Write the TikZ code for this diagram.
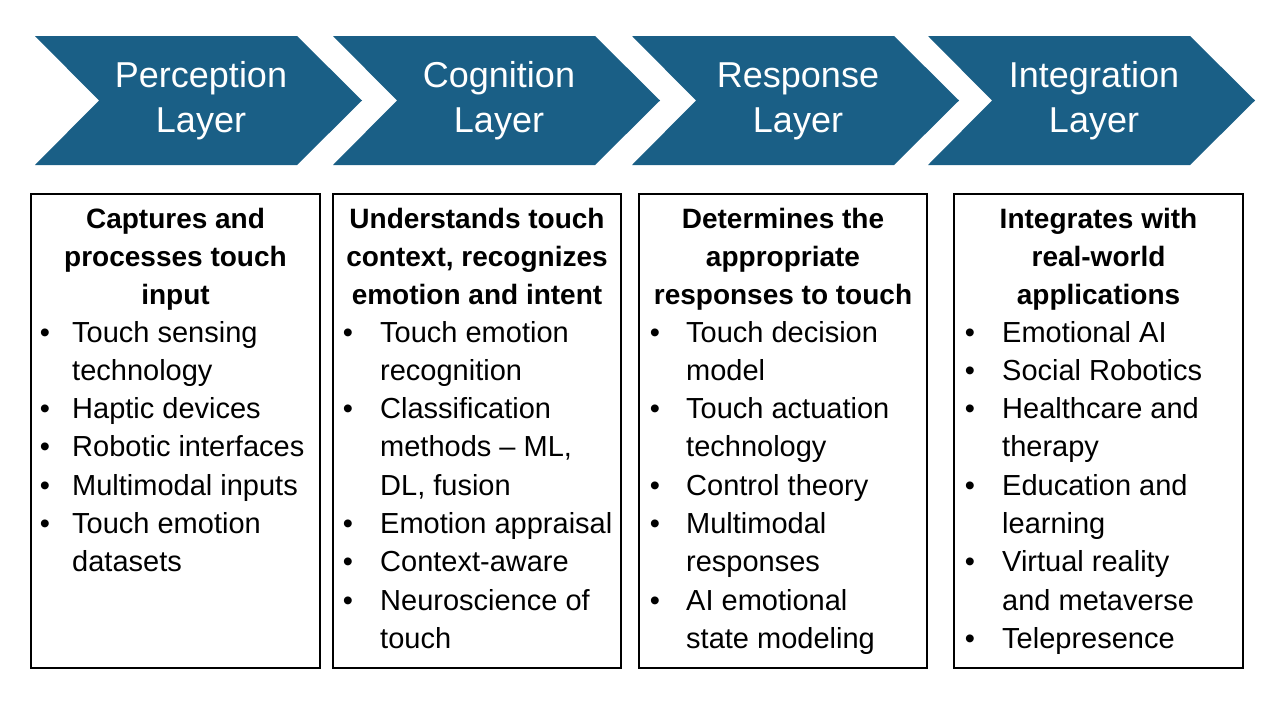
\documentclass[tikz,border=0pt]{standalone}
\usepackage{fontspec}
\setmainfont{Liberation Sans}
\definecolor{chevblue}{RGB}{26,95,134}
\newcommand\cm{,}
\tikzset{
  chevron/.style={fill=chevblue, draw=none},
  chevtext/.style={text=white, align=center, inner sep=0pt,
    font=\fontsize{36}{45}\selectfont},
  panel/.style={draw=black, line width=2pt, fill=white, inner sep=0pt,
    minimum height=474pt},
  headtext/.style={anchor=base, inner sep=0pt,
    font=\bfseries\fontsize{28}{34}\selectfont},
  bodytext/.style={anchor=base west, inner sep=0pt,
    font=\fontsize{29}{35}\selectfont},
  dot/.style={anchor=base, inner sep=0pt, font=\fontsize{29}{35}\selectfont},
}
\begin{document}
\begin{tikzpicture}[x=1pt,y=-1pt]
\useasboundingbox (0,0) rectangle (1280,720);

% chevron arrows with layer titles
\foreach \xo/\name/\lbl in {35/c1/Perception, 333/c2/Cognition, 632/c3/Response, 928/c4/Integration} {
  \fill[chevron] (\xo,36) -- ++(262,0) -- ++(65,64.5) -- ++(-65,64.5)
    -- ++(-262,0) -- ++(64,-64.5) -- cycle;
  \node[chevtext] (\name) at ({\xo+166},101) {\lbl\\Layer};
}

% description panels
\node[panel, minimum width=289pt] (box1) at (175.5,431) {};
\node[panel, minimum width=288pt] (box2) at (477,431) {};
\node[panel, minimum width=288pt] (box3) at (783,431) {};
\node[panel, minimum width=289pt] (box4) at (1098.5,431) {};

% panel 1
\foreach \t [count=\i] in {Captures and, processes touch, input}
  \node[headtext] (ah\i) at (175.5,{228+38.3*(\i-1)}) {\t};
\foreach \k/\t [count=\i] in {1/Touch sensing, 0/technology, 1/Haptic devices,
    1/Robotic interfaces, 1/Multimodal inputs, 1/Touch emotion, 0/datasets} {
  \node[bodytext] (a\i) at (72,{342+38.3*(\i-1)}) {\t};
  \ifnum\k=1 \node[dot] (ad\i) at (45,{342+38.3*(\i-1)}) {•}; \fi
}

% panel 2
\foreach \t [count=\i] in {Understands touch, context\cm{} recognizes, emotion and intent}
  \node[headtext] (bh\i) at (477,{228+38.3*(\i-1)}) {\t};
\foreach \k/\t [count=\i] in {1/Touch emotion, 0/recognition, 1/Classification,
    0/methods – ML\cm, 0/DL\cm{} fusion, 1/Emotion appraisal, 1/Context-aware,
    1/Neuroscience of, 0/touch} {
  \node[bodytext] (b\i) at (380,{342+38.3*(\i-1)}) {\t};
  \ifnum\k=1 \node[dot] (bd\i) at (348,{342+38.3*(\i-1)}) {•}; \fi
}

% panel 3
\foreach \t [count=\i] in {Determines the, appropriate, responses to touch}
  \node[headtext] (ch\i) at (783,{228+38.3*(\i-1)}) {\t};
\foreach \k/\t [count=\i] in {1/Touch decision, 0/model, 1/Touch actuation,
    0/technology, 1/Control theory, 1/Multimodal, 0/responses, 1/AI emotional,
    0/state modeling} {
  \node[bodytext] (c\i) at (686,{342+38.3*(\i-1)}) {\t};
  \ifnum\k=1 \node[dot] (cd\i) at (655,{342+38.3*(\i-1)}) {•}; \fi
}

% panel 4
\foreach \t [count=\i] in {Integrates with, real-world, applications}
  \node[headtext] (dh\i) at (1098.5,{228+38.3*(\i-1)}) {\t};
\foreach \k/\t [count=\i] in {1/Emotional AI, 1/Social Robotics, 1/Healthcare and,
    0/therapy, 1/Education and, 0/learning, 1/Virtual reality, 0/and metaverse,
    1/Telepresence} {
  \node[bodytext] (d\i) at (1002,{342+38.3*(\i-1)}) {\t};
  \ifnum\k=1 \node[dot] (dd\i) at (970,{342+38.3*(\i-1)}) {•}; \fi
}
\end{tikzpicture}
\end{document}
